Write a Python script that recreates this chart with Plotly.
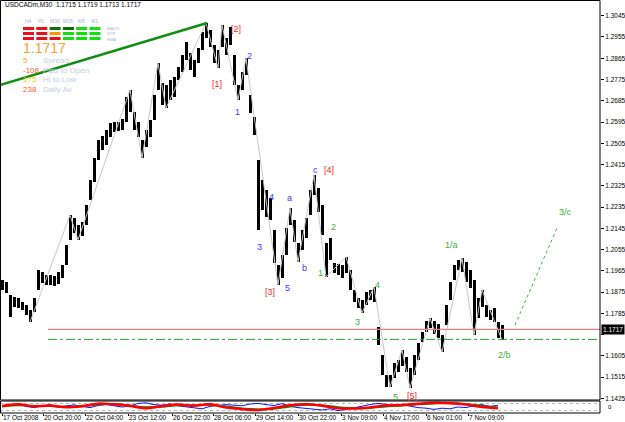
import plotly.graph_objects as go

# ---------------- DATA ----------------
title_text = "USDCADm,M30  1.1715 1.1719 1.1713 1.1717"
last_price = 1.1717
support_price = 1.1675

bar_high = [1.1926, 1.1918, 1.1863, 1.1854, 1.1850, 1.1833, 1.1820, 1.1799, 1.1850, 1.1969,
            1.1960, 1.1947, 1.1947, 1.1943, 1.1960, 1.1990, 1.2074, 1.2201, 1.2189, 1.2159,
            1.2172, 1.2244, 1.2350, 1.2443, 1.2519, 1.2536, 1.2561, 1.2591, 1.2595, 1.2595,
            1.2608, 1.2701, 1.2731, 1.2637, 1.2595, 1.2519, 1.2561, 1.2604, 1.2709, 1.2845,
            1.2760, 1.2752, 1.2773, 1.2786, 1.2828, 1.2879, 1.2934, 1.2887, 1.2858, 1.2908,
            1.2976, 1.3014, 1.2985, 1.2921, 1.2900, 1.3006, 1.2951, 1.2997, 1.2879, 1.2752,
            1.2807, 1.2866, 1.2709, 1.2616, 1.2434, 1.2350, 1.2307, 1.2273, 1.2138, 1.1990,
            1.2032, 1.2146, 1.2231, 1.2180, 1.2083, 1.2138, 1.2189, 1.2307, 1.2371, 1.2316,
            1.2244, 1.2083, 1.2104, 1.1998, 1.1994, 1.1990, 1.2024, 1.1969, 1.1884, 1.1850,
            1.1842, 1.1875, 1.1884, 1.1897, 1.1727, 1.1609, 1.1524, 1.1524, 1.1575, 1.1588,
            1.1630, 1.1600, 1.1554, 1.1609, 1.1660, 1.1706, 1.1753, 1.1765, 1.1753, 1.1740,
            1.1693, 1.1820, 1.1918, 1.1990, 1.2011, 1.2019, 1.2002, 1.1969, 1.1926, 1.1850,
            1.1884, 1.1820, 1.1799, 1.1808, 1.1748, 1.1736]
bar_low = [1.1884, 1.1871, 1.1770, 1.1812, 1.1808, 1.1799, 1.1778, 1.1748, 1.1791, 1.1884,
           1.1914, 1.1905, 1.1905, 1.1901, 1.1909, 1.1935, 1.1990, 1.2096, 1.2125, 1.2096,
           1.2113, 1.2159, 1.2265, 1.2341, 1.2434, 1.2477, 1.2498, 1.2532, 1.2553, 1.2557,
           1.2561, 1.2595, 1.2637, 1.2561, 1.2532, 1.2443, 1.2489, 1.2532, 1.2604, 1.2731,
           1.2667, 1.2654, 1.2688, 1.2701, 1.2773, 1.2807, 1.2858, 1.2815, 1.2786, 1.2845,
           1.2900, 1.2951, 1.2913, 1.2845, 1.2824, 1.2913, 1.2879, 1.2921, 1.2752, 1.2688,
           1.2731, 1.2794, 1.2633, 1.2540, 1.2138, 1.2223, 1.2193, 1.2180, 1.1998, 1.1905,
           1.1935, 1.2032, 1.2159, 1.2087, 1.2002, 1.2053, 1.2104, 1.2201, 1.2286, 1.2214,
           1.2117, 1.1939, 1.2011, 1.1956, 1.1947, 1.1935, 1.1956, 1.1884, 1.1833, 1.1808,
           1.1787, 1.1820, 1.1842, 1.1833, 1.1651, 1.1524, 1.1473, 1.1473, 1.1511, 1.1537,
           1.1562, 1.1537, 1.1469, 1.1524, 1.1588, 1.1664, 1.1706, 1.1723, 1.1698, 1.1681,
           1.1621, 1.1736, 1.1842, 1.1926, 1.1969, 1.1960, 1.1918, 1.1892, 1.1693, 1.1765,
           1.1812, 1.1770, 1.1757, 1.1748, 1.1681, 1.1672]

zigzag_idx = [7, 17, 19, 32, 35, 39, 41, 51, 54, 55, 59, 61, 69, 72, 74, 78, 81, 86, 90, 93,
              97, 100, 102, 107, 110, 115, 118, 120, 125]
zigzag_price = [1.1748, 1.2201, 1.2096, 1.2731, 1.2443, 1.2845, 1.2654, 1.3014, 1.2824, 1.3006,
                1.2688, 1.2866, 1.1905, 1.2231, 1.2002, 1.2371, 1.1939, 1.2024, 1.1787, 1.1897,
                1.1473, 1.1630, 1.1469, 1.1765, 1.1621, 1.2019, 1.1693, 1.1884, 1.1672]

trend_idx = [-0.5, 51.25]
trend_price = [1.2752, 1.3014]
proj_idx = [128.25, 138.75]
proj_price = [1.1736, 1.2146]
hline_start_idx = 11.5

# oscillator sub-window (0..100)
osc_red = [58, 72, 55, 62, 48, 58, 78, 72, 58, 40, 58, 70, 60, 72, 45, 32, 25, 42, 65, 72,
           60, 40, 38, 46, 62, 67, 78, 86, 82, 70, 50, 40]
osc_green = [55, 65, 60, 58, 52, 55, 70, 75, 62, 48, 52, 65, 65, 68, 55, 38, 30, 35, 55, 68,
             65, 48, 40, 42, 55, 63, 72, 80, 84, 75, 58, 45]
osc_blue = [60, 70, 75, 55, 45, 60, 70, 50, 58, 68, 55, 45, 62, 72, 60, 50, 58, 80, 85, 70,
            65, 75, 60, 50, 40, 35, 55, 60, 70, 65, 60, 75, 80, 70, 62, 78, 55, 45, 40, 30,
            25, 35, 20, 30, 45, 55, 70, 80, 75, 65, 70, 55, 45, 40, 30, 40, 35, 50, 45, 60,
            70, 55, 65]

price_ticks = [1.3045, 1.2955, 1.2865, 1.2775, 1.2685, 1.2595, 1.2505, 1.2415, 1.2325, 1.2235,
               1.2145, 1.2055, 1.1965, 1.1875, 1.1785, 1.1695, 1.1605, 1.1515, 1.1425]
time_tick_idx = [0, 10.25, 20.75, 31.5, 42.5, 52.75, 63.25, 74, 84.75, 95.25, 106, 116.5]
time_tick_labels = ["17 Oct 2008", "20 Oct 20:00", "22 Oct 04:00", "23 Oct 12:00",
                    "26 Oct 22:00", "28 Oct 06:00", "29 Oct 14:00", "30 Oct 22:00",
                    "3 Nov 09:00", "4 Nov 17:00", "6 Nov 01:00", "7 Nov 09:00"]

RED, BLUE, GREEN = "#ff2828", "#3a3aff", "#3cae3c"
wave_labels = [
    ("[1]", 53.75, 1.2756, RED), ("[2]", 58.5, 1.2989, RED), ("[3]", 67, 1.1875, RED),
    ("[4]", 81.75, 1.2392, RED), ("[5]", 102.5, 1.1437, RED),
    ("c", 78.25, 1.2392, BLUE), ("1", 58.75, 1.2637, BLUE), ("2", 61.75, 1.2874, BLUE),
    ("3", 64.25, 1.2066, BLUE), ("4", 67.25, 1.2278, BLUE), ("5", 71.25, 1.1892, BLUE),
    ("a", 71.75, 1.2273, BLUE), ("b", 75.5, 1.1977, BLUE),
    ("1", 79.5, 1.1956, GREEN), ("2", 82.75, 1.2151, GREEN), ("3", 88.75, 1.1748, GREEN),
    ("4", 93.75, 1.1905, GREEN), ("5", 98.25, 1.1433, GREEN), ("1/a", 112.25, 1.2074, GREEN),
    ("2/b", 125.5, 1.1609, GREEN), ("3/c", 140.75, 1.2214, GREEN),
]

tf_labels = ["H4", "H1", "M30", "M15", "M5", "M1"]
row_labels = ["MACD", "STR", "EMA"]
block_colors = [
    ["#e8101a", "#e8101a", "#0a6e0a", "#0a6e0a", "#10e010", "#10e010"],
    ["#e8101a", "#e8101a", "#ff9900", "#10e010", "#10e010", "#10e010"],
    ["#e8101a", "#e8101a", "#e8101a", "#10e010", "#10e010", "#10e010"],
]
stat_values = ["5", "-108", "175", "238"]
stat_colors = ["#f5a623", "#ff5a36", "#e6d200", "#ff5a36"]
stat_names = ["Spread", "Pips to Open", "Hi to Low", "Daily Av"]

# ---------------- FIGURE ----------------
W, H = 625, 422
PW = 600  # plot width in px
YTOP, YMAIN_BOT = 1.31115, 1.14183


def px_x(px):
    return px / PW


def px_y(py):
    return 1 - py / H


FONT = "Liberation Sans"
fig = go.Figure()

idx = list(range(len(bar_high)))
fig.add_trace(go.Scatter(x=zigzag_idx, y=zigzag_price, mode="lines",
                         line=dict(color="#c8c8c8", width=1), hoverinfo="skip"))
fig.add_trace(go.Bar(x=idx, y=[h - l for h, l in zip(bar_high, bar_low)], base=bar_low,
                     width=0.75, marker=dict(color="black", line=dict(width=0)),
                     hoverinfo="skip"))
fig.add_trace(go.Scatter(x=trend_idx, y=trend_price, mode="lines",
                         line=dict(color="#128c12", width=2.5), hoverinfo="skip"))
fig.add_trace(go.Scatter(x=proj_idx, y=proj_price, mode="lines",
                         line=dict(color="#3cae3c", width=1, dash="dot"), hoverinfo="skip"))
fig.add_trace(go.Scatter(x=[hline_start_idx, 149.5], y=[last_price, last_price], mode="lines",
                         line=dict(color="#f08080", width=1.2), hoverinfo="skip"))
fig.add_trace(go.Scatter(x=[hline_start_idx, 149.5], y=[support_price, support_price],
                         mode="lines", line=dict(color="#2e9a2e", width=1, dash="dashdot"),
                         hoverinfo="skip"))

# oscillator
fig.add_trace(go.Scatter(x=[i * 2 for i in range(len(osc_blue))], y=osc_blue, yaxis="y2",
                         mode="lines", line=dict(color="#1010ff", width=1), hoverinfo="skip"))
fig.add_trace(go.Scatter(x=[i * 4 for i in range(len(osc_green))], y=osc_green, yaxis="y2",
                         mode="lines", line=dict(color="#108010", width=2, shape="spline"),
                         hoverinfo="skip"))
fig.add_trace(go.Scatter(x=[i * 4 for i in range(len(osc_red))], y=osc_red, yaxis="y2",
                         mode="lines", line=dict(color="#ff0000", width=2.5, shape="spline"),
                         hoverinfo="skip"))

main_dom = [(H - 400) / H, 1]
sub_dom = [(H - 413) / H, (H - 401) / H]

fig.update_layout(
    width=W, height=H, margin=dict(l=0, r=W - PW, t=0, b=0),
    paper_bgcolor="white", plot_bgcolor="white", showlegend=False,
    font=dict(family=FONT, color="black"),
    xaxis=dict(range=[-0.5, 149.5], domain=[0, 1], anchor="y2", showgrid=False,
               zeroline=False, tickvals=time_tick_idx, ticktext=[""] * len(time_tick_idx),
               ticks="outside", ticklen=2, tickcolor="black", showticklabels=False),
    yaxis=dict(range=[YMAIN_BOT, YTOP], domain=main_dom, side="right", showgrid=False,
               zeroline=False, tickvals=price_ticks,
               ticktext=["" if abs(v - 1.1695) < 1e-6 else f"{v:.4f}" for v in price_ticks],
               ticks="outside", ticklen=3, tickcolor="black",
               tickfont=dict(size=6.5, family=FONT, color="black"), automargin=False,
               anchor="x"),
    yaxis2=dict(range=[0, 100], domain=sub_dom, showgrid=True, gridcolor="#b8b8b8",
                griddash="dot", gridwidth=1, tickvals=[20, 80], showticklabels=False,
                zeroline=False, anchor="x"),
    bargap=0,
)

shapes = []
# panel borders
shapes.append(dict(type="rect", xref="paper", yref="paper", x0=px_x(0.5), x1=1,
                   y0=main_dom[0], y1=px_y(0.5), line=dict(color="black", width=1)))
shapes.append(dict(type="rect", xref="paper", yref="paper", x0=px_x(0.5), x1=1,
                   y0=sub_dom[0], y1=sub_dom[1], line=dict(color="black", width=1)))

annotations = []
# header
annotations.append(dict(text=title_text, x=px_x(3), y=px_y(5), xref="paper", yref="paper",
                        xanchor="left", yanchor="middle", showarrow=False,
                        font=dict(size=6.5, family=FONT, color="black")))
# signal panel
for k, lab in enumerate(tf_labels):
    cx = 28 + 13.3 * k
    annotations.append(dict(text=lab, x=px_x(cx), y=px_y(21), xref="paper", yref="paper",
                            xanchor="center", yanchor="middle", showarrow=False,
                            font=dict(size=5, family=FONT, color="#a8b4d0")))
for r, row in enumerate(block_colors):
    yc = 28.5 + 5 * r
    for k, col in enumerate(row):
        x0 = 23 + 13.3 * k
        shapes.append(dict(type="rect", xref="paper", yref="paper", x0=px_x(x0),
                           x1=px_x(x0 + 11), y0=px_y(yc + 1.5), y1=px_y(yc - 1.5),
                           fillcolor=col, line=dict(width=0)))
annotations.append(dict(text="<br>".join(row_labels), x=px_x(105), y=px_y(33.5),
                        xref="paper", yref="paper", xanchor="left", yanchor="middle",
                        align="left", showarrow=False,
                        font=dict(size=4.2, family=FONT, color="#a8b4d0")))
annotations.append(dict(text=f"{last_price:.4f}", x=px_x(21), y=px_y(48), xref="paper",
                        yref="paper", xanchor="left", yanchor="middle", showarrow=False,
                        font=dict(size=14, family=FONT, color="#f5a030")))
for r in range(len(stat_values)):
    yc = 60 + 10 * r
    annotations.append(dict(text=stat_values[r], x=px_x(21), y=px_y(yc), xref="paper",
                            yref="paper", xanchor="left", yanchor="middle", showarrow=False,
                            font=dict(size=8, family=FONT, color=stat_colors[r])))
    annotations.append(dict(text=stat_names[r], x=px_x(41), y=px_y(yc), xref="paper",
                            yref="paper", xanchor="left", yanchor="middle", showarrow=False,
                            font=dict(size=8, family=FONT, color="#c4cee0")))
# wave labels
for txt, xi, yp, col in wave_labels:
    annotations.append(dict(text=txt, x=xi, y=yp, xref="x", yref="y", xanchor="center",
                            yanchor="middle", showarrow=False,
                            font=dict(size=9, family=FONT, color=col)))
# time labels
for xi, lab in zip(time_tick_idx, time_tick_labels):
    annotations.append(dict(text=lab, x=xi, y=px_y(417), xref="x", yref="paper",
                            xanchor="left", yanchor="middle", showarrow=False, xshift=-1,
                            font=dict(size=6.5, family=FONT, color="black")))
# current price box
annotations.append(dict(text=f"{last_price:.4f}", x=1, y=last_price, xref="paper", yref="y",
                        xanchor="left", yanchor="middle", showarrow=False, xshift=1,
                        bgcolor="black", borderpad=1,
                        font=dict(size=6.5, family=FONT, color="white")))
annotations.append(dict(text="0", x=1, y=50, xref="paper", yref="y2", xanchor="left",
                        yanchor="middle", showarrow=False, xshift=6,
                        font=dict(size=6, family=FONT, color="black")))

fig.update_layout(shapes=shapes, annotations=annotations)
fig.write_html("out.html")
